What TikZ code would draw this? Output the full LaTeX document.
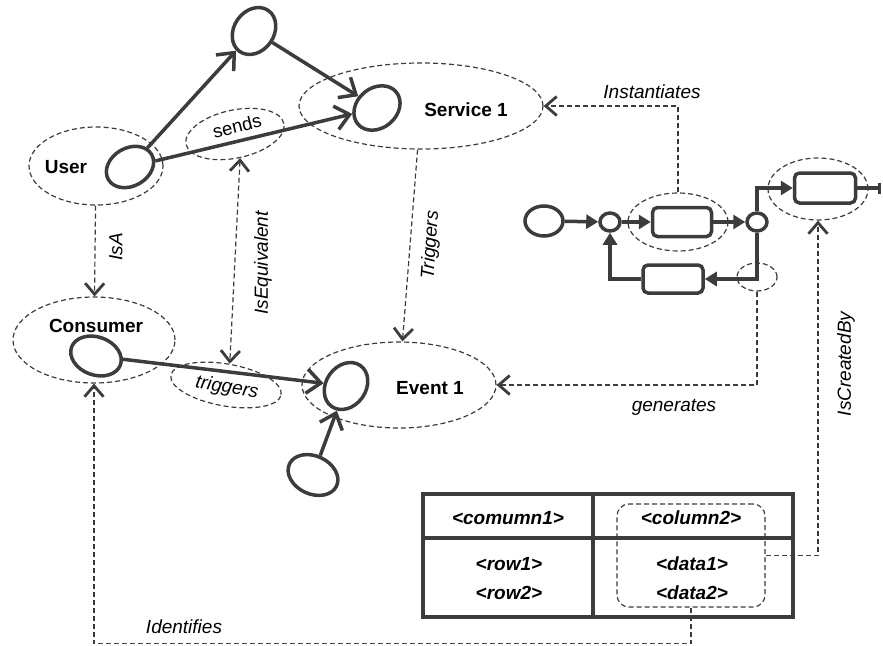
\documentclass[tikz,border=0pt]{standalone}
\usepackage{fontspec}
\setmainfont{Liberation Sans}
\usetikzlibrary{shapes.geometric,arrows.meta}
\definecolor{ink}{HTML}{3C3C3C}
\tikzset{
  solidell/.style={ellipse,draw=ink,line width=3.5pt,inner sep=0pt},
  dashell/.style={ellipse,draw=ink,line width=1.2pt,dash pattern=on 5pt off 3pt,inner sep=0pt},
  procbox/.style={rectangle,rounded corners=5pt,draw=ink,line width=3.5pt,inner sep=0pt},
  thickarrow/.style={draw=ink,line width=3.5pt,-{Straight Barb[length=14pt,width=24pt]}},
  procarrow/.style={draw=ink,line width=3.5pt,-{Triangle[length=12pt,width=14pt]}},
  dashtip/.tip={Straight Barb[length=11pt,width=19pt,line width=2.8pt]},
  dasharrow/.style={draw=ink,line width=1.2pt,dash pattern=on 5pt off 3pt,-dashtip},
  bigtxt/.style={font=\fontsize{19}{22}\selectfont\bfseries,text=black,inner sep=0pt},
  itxt/.style={font=\fontsize{19}{22}\selectfont\itshape,text=black,inner sep=0pt},
  rtxt/.style={font=\fontsize{18.5}{22}\selectfont,text=black,inner sep=0pt},
  tabtxt/.style={font=\fontsize{19}{22}\selectfont\bfseries\itshape,text=black,inner sep=0pt},
}
\begin{document}
\begin{tikzpicture}[x=1pt,y=-1pt]
\useasboundingbox (0,0) rectangle (883,645);
% dashed containers
\node[dashell,minimum width=134,minimum height=78] (user) at (96,166) {};
\node[dashell,minimum width=244,minimum height=86] (service) at (421,106) {};
\node[dashell,minimum width=162,minimum height=86] (consumer) at (94,340) {};
\node[dashell,minimum width=194,minimum height=86] (event) at (399,385) {};
\node[dashell,minimum width=100,minimum height=48,rotate=12] (sends) at (235,134) {};
\node[dashell,minimum width=112,minimum height=42,rotate=-10] (trig) at (226,385) {};
% labels of containers
\node[bigtxt] (userl) at (66,167) {User};
\node[bigtxt] (servicel) at (466,110) {Service 1};
\node[bigtxt] (consumerl) at (96,326) {Consumer};
\node[bigtxt] (eventl) at (430,388) {Event 1};
\node[rtxt,rotate=14] (sendsl) at (237,126) {sends};
\node[itxt,rotate=-10] (trigl) at (227,388) {triggers};
% solid ellipses
\node[solidell,minimum width=50,minimum height=38,rotate=30] (uc) at (130,167) {};
\node[solidell,minimum width=50,minimum height=40,rotate=55] (tc) at (254,31) {};
\node[solidell,minimum width=50,minimum height=40,rotate=40] (sc) at (377,108) {};
\node[solidell,minimum width=52,minimum height=38,rotate=-20] (cc) at (96,356) {};
\node[solidell,minimum width=50,minimum height=40,rotate=55] (ec) at (346,386) {};
\node[solidell,minimum width=52,minimum height=38,rotate=-25] (bc) at (313,475) {};
% thick arrows
\draw[thickarrow] (uc) -- (tc);
\draw[thickarrow] (uc) -- (sc);
\draw[thickarrow] (tc) -- (sc);
\draw[thickarrow] (cc) -- (ec);
\draw[thickarrow] (bc) -- (ec);
% process
\node[solidell,minimum width=38,minimum height=30] (start) at (544,221) {};
\node[solidell,minimum width=20,minimum height=18] (g1) at (610,222) {};
\node[procbox,minimum width=59,minimum height=29] (b1) at (682,222) {};
\node[solidell,minimum width=20,minimum height=18] (g2) at (757,222) {};
\node[procbox,minimum width=60,minimum height=28] (b2) at (673,279) {};
\node[procbox,minimum width=61,minimum height=30] (b3) at (825,188) {};
\coordinate (pend) at (881,188);
\draw[procarrow] (start) -- (g1);
\draw[procarrow] (g1) -- (b1);
\draw[procarrow] (b1) -- (g2);
\draw[procarrow] (g2.north) |- (b3.west);
\draw[procarrow] (g2.south) |- (b2.east);
\draw[procarrow] (b2.west) -| (g1.south);
\draw[draw=ink,line width=3.5pt,-{Bar[width=11pt]}] (b3.east) -- (pend);
\node[dashell,minimum width=100,minimum height=58] (pe1) at (678,222) {};
\node[dashell,minimum width=100,minimum height=62] (pe3) at (818,189) {};
\node[dashell,minimum width=40,minimum height=28] (pc) at (757,277) {};
% table
\draw[ink,line width=4pt] (423,494) rectangle (793,617);
\draw[ink,line width=4pt] (593,494) -- (593,617);
\draw[ink,line width=4pt] (423,538) -- (793,538);
\node[tabtxt] (h1) at (508,518) {<comumn1>};
\node[tabtxt] (h2) at (691,518) {<column2>};
\node[tabtxt] (r1) at (509,564) {<row1>};
\node[tabtxt] (r2) at (509,593) {<row2>};
\node[tabtxt] (d1) at (692,564) {<data1>};
\node[tabtxt] (d2) at (692,593) {<data2>};
\node[draw=ink,line width=1.2pt,dash pattern=on 5pt off 3pt,rounded corners=12pt,minimum width=148,minimum height=103,inner sep=0pt] (dbox) at (691,555.5) {};
% dashed relations
\draw[dasharrow] (user) -- (consumer);
\node[itxt,rotate=90] (isal) at (116,247) {IsA};
\draw[dasharrow,dashtip-dashtip] (sends.south) -- (trig.north);
\node[itxt,rotate=90] (eql) at (263,263) {IsEquivalent};
\draw[dasharrow] (service) -- (event);
\node[itxt,rotate=86] (trigsl) at (431,245) {Triggers};
\draw[dasharrow] (pe1.north) |- (service.east);
\node[itxt] (instl) at (652,92) {Instantiates};
\draw[dasharrow] (pc.south) |- (event.east);
\node[itxt] (genl) at (674,407) {generates};
\draw[dasharrow] (dbox.east) -| (pe3.south);
\node[itxt,rotate=90] (crl) at (846,364) {IsCreatedBy};
\draw[dasharrow] (dbox.south) -- ++(0,36) -| (consumer.south);
\node[itxt] (idl) at (184,627) {Identifies};
\end{tikzpicture}
\end{document}
